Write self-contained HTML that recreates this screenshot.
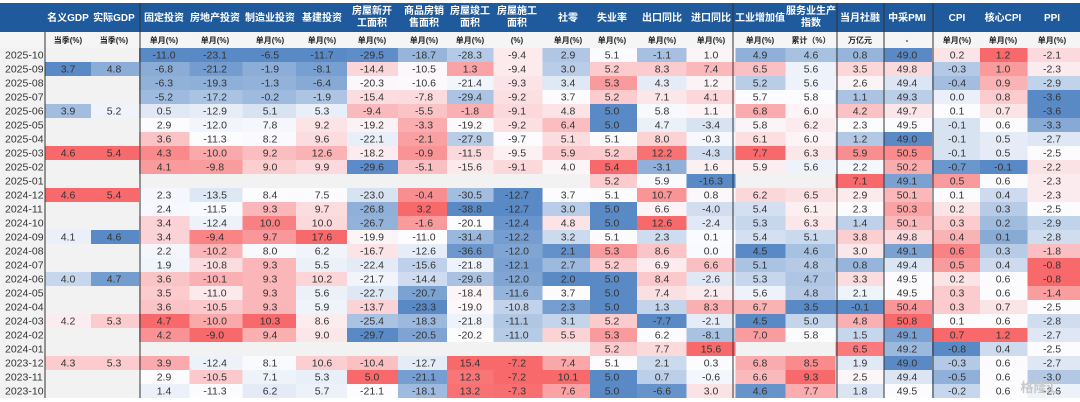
<!DOCTYPE html>
<html><head><meta charset="utf-8">
<style>
html,body{margin:0;padding:0;background:#fff;}
svg{display:block;font-family:"Liberation Sans","Noto Sans CJK SC",sans-serif;}
</style></head>
<body>
<svg id="chart" width="1080" height="402" viewBox="0 0 1080 402" xmlns="http://www.w3.org/2000/svg"></svg>
<script>
const dates=["2025-10","2025-09","2025-08","2025-07","2025-06","2025-05","2025-04","2025-03","2025-02","2025-01","2024-12","2024-11","2024-10","2024-09","2024-08","2024-07","2024-06","2024-05","2024-04","2024-03","2024-02","2024-01","2023-12","2023-11","2023-10"];
const headers=[["名义GDP"],["实际GDP"],["固定投资"],["房地产投资"],["制造业投资"],["基建投资"],["房屋新开","工面积"],["商品房销","售面积"],["房屋竣工","面积"],["房屋施工","面积"],["社零"],["失业率"],["出口同比"],["进口同比"],["工业增加值"],["服务业生产","指数"],["当月社融"],["中采PMI"],["CPI"],["核心CPI"],["PPI"]];
const units=["当季(%)","当季(%)","单月(%)","单月(%)","单月(%)","单月(%)","单月(%)","单月(%)","单月(%)","(%)","单月(%)","单月(%)","单月(%)","单月(%)","单月(%)","累计（%）","万亿元","-","单月(%)","单月(%)","单月(%)"];
const nomGDP=[null,3.7,null,null,3.9,null,null,4.6,null,null,4.6,null,null,4.1,null,null,4.0,null,null,4.2,null,null,4.3,null,null];
const realGDP=[null,4.8,null,null,5.2,null,null,5.4,null,null,5.4,null,null,4.6,null,null,4.7,null,null,5.3,null,null,5.3,null,null];
const fai=[-11.0,-6.8,-6.3,-5.2,0.5,2.9,3.6,4.3,4.1,null,2.3,2.4,3.4,3.4,2.2,1.9,3.6,3.5,3.6,4.7,4.2,null,3.9,2.9,1.4];
const realEstate=[-23.1,-21.2,-19.3,-17.2,-12.9,-12.0,-11.3,-10.0,-9.8,null,-13.5,-11.5,-12.4,-9.4,-10.2,-10.8,-10.1,-11.0,-10.5,-10.0,-9.0,null,-12.4,-10.5,-11.3];
const mfg=[-6.5,-1.9,-1.3,-0.2,5.1,7.8,8.2,9.2,9.0,null,8.4,9.3,10.0,9.7,8.0,9.3,9.3,9.3,9.3,10.3,9.4,null,8.1,7.1,6.2];
const infra=[-11.7,-8.1,-6.4,-1.9,5.3,9.2,9.6,12.6,9.9,null,7.5,9.7,10.0,17.6,6.2,5.5,10.2,5.6,5.9,8.6,9.0,null,10.6,5.3,5.7];
const newStart=[-29.5,-14.4,-20.3,-15.4,-9.4,-19.2,-22.1,-18.2,-29.6,null,-23.0,-26.8,-26.7,-19.9,-16.7,-22.4,-21.7,-22.7,-13.7,-25.4,-29.7,null,-10.4,5.0,-21.1];
const sales=[-18.7,-10.5,-10.6,-7.8,-5.5,-3.3,-2.1,-0.9,-5.1,null,-0.4,3.2,-1.6,-11.0,-12.6,-15.6,-14.4,-20.7,-23.3,-18.3,-20.5,null,-12.7,-21.1,-18.1];
const completed=[-28.3,1.3,-21.4,-29.4,-1.8,-19.2,-27.9,-11.5,-15.6,null,-30.5,-38.8,-20.1,-31.4,-36.6,-21.8,-29.6,-18.4,-19.0,-21.8,-20.2,null,15.4,12.3,13.2];
const construction=[-9.4,-9.4,-9.3,-9.2,-9.1,-9.2,-9.7,-9.5,-9.1,null,-12.7,-12.7,-12.4,-12.2,-12.0,-12.1,-12.0,-11.6,-10.8,-11.1,-11.0,null,-7.2,-7.2,-7.3];
const retail=[2.9,3.0,3.4,3.7,4.8,6.4,5.1,5.9,4.0,null,3.7,3.0,4.8,3.2,2.1,2.7,2.0,3.7,2.3,3.1,5.5,null,7.4,10.1,7.6];
const unemp=[5.1,5.2,5.3,5.2,5.0,5.0,5.1,5.2,5.4,5.2,5.1,5.0,5.0,5.1,5.3,5.2,5.0,5.0,5.0,5.2,5.3,5.2,5.1,5.0,5.0];
const exportYoY=[-1.1,8.3,4.3,7.1,5.8,4.7,8.0,12.2,-3.1,5.9,10.7,6.6,12.6,2.3,8.6,6.9,8.4,7.4,1.3,-7.7,6.2,7.7,2.1,0.7,-6.6];
const importYoY=[1.0,7.4,1.2,4.1,1.1,-3.4,-0.3,-4.3,1.6,-16.3,0.8,-4.0,-2.4,0.1,0.0,6.6,-2.6,2.1,8.3,-2.1,-8.1,15.6,0.3,-0.6,3.0];
const industry=[4.9,6.5,5.2,5.7,6.8,5.8,6.1,7.7,5.9,null,6.2,5.4,5.3,5.4,4.5,5.1,5.3,5.6,6.7,4.5,7.0,null,6.8,6.6,4.6];
const services=[4.6,5.6,5.6,5.8,6.0,6.2,6.0,6.3,5.6,null,6.5,6.1,6.3,5.1,4.6,4.8,4.7,4.8,3.5,5.0,5.8,null,8.5,9.3,7.7];
const tsf=[0.8,3.5,2.6,1.1,4.2,2.3,1.2,5.9,2.2,7.1,2.9,2.3,1.4,3.8,3.0,0.8,3.3,2.1,-0.1,4.8,1.5,6.5,1.9,2.5,1.8];
const pmi=[49.0,49.8,49.4,49.3,49.7,49.5,49.0,50.5,50.2,49.1,50.1,50.3,50.1,49.8,49.1,49.4,49.5,49.5,50.4,50.8,49.1,49.2,49.0,49.4,49.5];
const cpi=[0.2,-0.3,-0.4,0.0,0.1,-0.1,-0.1,-0.1,-0.7,0.5,0.1,0.2,0.3,0.4,0.6,0.5,0.2,0.3,0.3,0.1,0.7,-0.8,-0.3,-0.5,-0.2];
const coreCpi=[1.2,1.0,0.9,0.8,0.7,0.6,0.5,0.5,-0.1,0.6,0.4,0.3,0.2,0.1,0.3,0.4,0.6,0.6,0.7,0.6,1.2,0.4,0.6,0.6,0.6];
const ppi=[-2.1,-2.3,-2.9,-3.6,-3.6,-3.3,-2.7,-2.5,-2.2,-2.3,-2.3,-2.5,-2.9,-2.8,-1.8,-0.8,-0.8,-1.4,-2.5,-2.8,-2.7,-2.5,-2.7,-3.0,-2.6];
const series=[nomGDP,realGDP,fai,realEstate,mfg,infra,newStart,sales,completed,construction,retail,unemp,exportYoY,importYoY,industry,services,tsf,pmi,cpi,coreCpi,ppi];

const svg=document.getElementById('chart');
const NS="http://www.w3.org/2000/svg";
const centers=[68,114,164,215,270,322,372,424,470,517,568,612,662,711,760,811,860,907,957,1003,1052];
const edges=[45];
for(let i=0;i<centers.length-1;i++)edges.push((centers[i]+centers[i+1])/2);
edges.push(1080);
const rowTop=48,rowH=14;
const yOf=i=>rowTop+i*rowH;
function mk(tag,attrs,parent){const e=document.createElementNS(NS,tag);for(const k in attrs)e.setAttribute(k,attrs[k]);(parent||svg).appendChild(e);return e;}
function lerp(a,b,t){return a.map((v,i)=>Math.round(v+(b[i]-v)*t));}
const BLUE=[90,138,198],WHITE=[252,252,255],RED=[248,105,107];
function colorScale(arr){
  const v=arr.filter(x=>x!==null).slice().sort((a,b)=>a-b);
  const mn=v[0],mx=v[v.length-1];
  const n=v.length,med=n%2?v[(n-1)/2]:(v[n/2-1]+v[n/2])/2;
  return x=>{let c;
    if(x<=med){c=lerp(BLUE,WHITE,med===mn?1:(x-mn)/(med-mn));}
    else{c=lerp(WHITE,RED,mx===med?0:(x-med)/(mx-med));}
    return `rgb(${c[0]},${c[1]},${c[2]})`;};
}
mk('rect',{x:0,y:0,width:1080,height:402,fill:'#ffffff'});
mk('rect',{x:0,y:3,width:1080,height:29,fill:'#1f5a9c'});
mk('rect',{x:0,y:32,width:1080,height:16,fill:'#f5f5f5'});
mk('rect',{x:0,y:rowTop,width:1080,height:dates.length*rowH,fill:'#f2f2f2'});
headers.forEach((h,c)=>{
  const t=mk('text',{x:centers[c],y:h.length===1?21:14,'text-anchor':'middle',fill:'#fff','font-size':10,'font-weight':'bold'});
  
  
  h.forEach((line,k)=>{const s=mk('tspan',{x:centers[c],dy:k?12:0},t);s.textContent=line;});
  const u=mk('text',{x:centers[c],y:43,'text-anchor':'middle',fill:'#222','font-size':8,'font-weight':'bold'});
  
  
  u.textContent=units[c];
});
dates.forEach((d,r)=>{
  const t=mk('text',{x:5,y:yOf(r)+10.5,fill:'#333','font-size':10.5});
  
  
  t.textContent=d;
});
series.forEach((arr,c)=>{
  const cs=colorScale(arr);
  arr.forEach((v,r)=>{
    if(v===null)return;
    const rc=mk('rect',{x:edges[c],y:yOf(r),width:edges[c+1]-edges[c],height:rowH,fill:cs(v)});
    
    
    const t=mk('text',{x:centers[c],y:yOf(r)+10.5,'text-anchor':'middle',fill:'#333','font-size':10.5});
    
    
    t.textContent=v.toFixed(1);
  });
});
[45,140,733,837,884,933].forEach(x=>{
  const l=mk('line',{x1:x,x2:x,y1:x===45?32:3,y2:rowTop+dates.length*rowH,stroke:'#333','stroke-width':1});
  
  
});
const wm=mk('text',{x:1040,y:392,'text-anchor':'middle',fill:'#c8c8c8','font-size':13,'font-weight':'bold'});


wm.textContent='格隆汇';
</script>
</body></html>
